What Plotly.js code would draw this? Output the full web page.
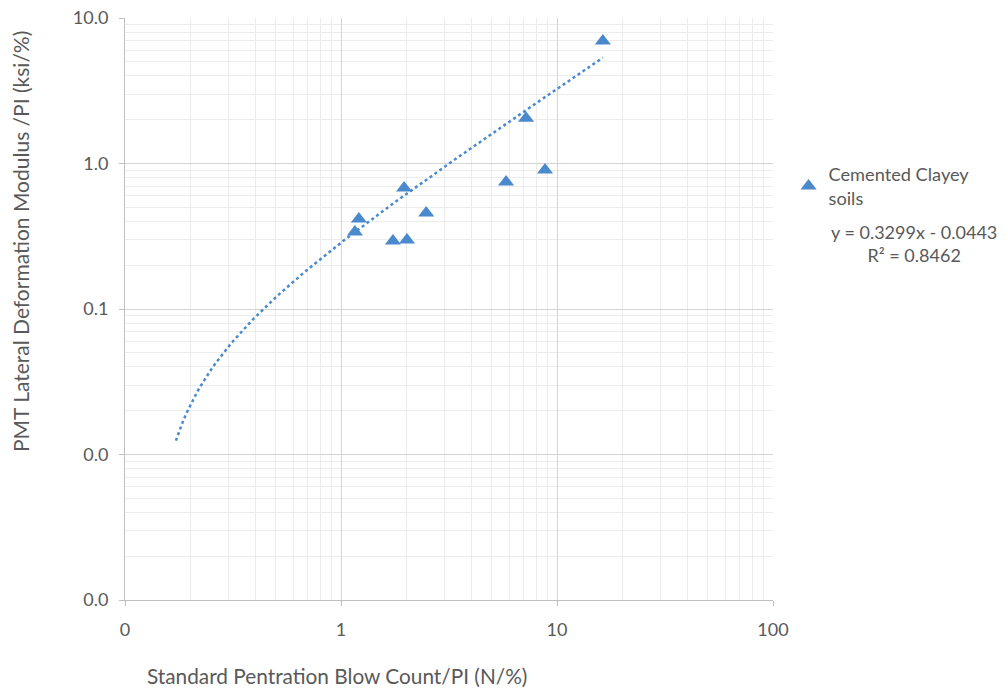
<!DOCTYPE html>
<html>
<head>
<meta charset="utf-8">
<script src="https://cdn.plot.ly/plotly-3.0.1.min.js"></script>
<style>
  html, body { margin: 0; padding: 0; background: #ffffff; }
  #chart { width: 1006px; height: 690px; }
</style>
</head>
<body>
<div id="chart"></div>
<script>
// Cemented clayey soils: SPT blow count / PI vs. PMT lateral deformation modulus / PI
const sptOverPI = [1.16, 1.21, 1.74, 1.96, 2.02, 2.48, 5.81, 7.19, 8.80, 16.3];
const pmtOverPI = [0.338, 0.416, 0.293, 0.679, 0.298, 0.457, 0.746, 2.05, 0.902, 6.95];

// Linear trendline as reported: y = slope * x + intercept
const trendSlope = 0.3299;
const trendIntercept = -0.0443;
const trendR2 = 0.8462;
const trendRange = [0.172, 16.3];

// Tick labels (two-significant-digit display of log axes)
const xTickVals = [0.1, 1, 10, 100];
const xTickText = ['0', '1', '10', '100'];
const yTickVals = [0.001, 0.01, 0.1, 1, 10];
const yTickText = ['0.0', '0.0', '0.1', '1.0', '10.0'];

// Sample the trendline evenly in log space so it reads smoothly on log axes
const trendX = [];
const trendY = [];
const nSamples = 120;
const lx0 = Math.log10(trendRange[0]), lx1 = Math.log10(trendRange[1]);
for (let i = 0; i <= nSamples; i++) {
  const x = Math.pow(10, lx0 + (lx1 - lx0) * i / nSamples);
  trendX.push(x);
  trendY.push(trendSlope * x + trendIntercept);
}

// Minor gridlines at 2..9 of every decade
function minorVals(lo, hi) {
  const v = [];
  for (let e = lo; e < hi; e++) {
    for (let d = 2; d <= 9; d++) v.push(d * Math.pow(10, e));
  }
  return v;
}

const blue = '#4a89cc';
const textGray = '#595959';
const font = 'Lato, "Open Sans", sans-serif';

const traces = [
  {
    x: sptOverPI, y: pmtOverPI,
    type: 'scatter', mode: 'markers',
    name: 'Cemented Clayey<br>soils',
    marker: { symbol: 'triangle-up', size: 14, color: blue },
    showlegend: true
  },
  {
    x: trendX, y: trendY,
    type: 'scatter', mode: 'lines',
    line: { color: blue, width: 2.5, dash: 'dot' },
    showlegend: false, hoverinfo: 'skip'
  }
];

const layout = {
  width: 1006, height: 690,
  margin: { l: 125, r: 233, t: 18, b: 90 },
  paper_bgcolor: '#ffffff', plot_bgcolor: '#ffffff',
  font: { family: font, color: textGray, size: 18 },
  xaxis: {
    type: 'log', range: [-1, 2],
    tickmode: 'array', tickvals: xTickVals, ticktext: xTickText,
    showgrid: true, gridcolor: '#d4d4d4', gridwidth: 1,
    showline: true, linecolor: '#bfbfbf', linewidth: 1,
    ticks: 'outside', ticklen: 5, tickcolor: '#bfbfbf',
    ticklabelstandoff: 8,
    tickfont: { size: 18, color: textGray },
    minor: { tickmode: 'array', tickvals: minorVals(-1, 2), showgrid: true, gridcolor: '#ececec', gridwidth: 1, ticks: '' },
    zeroline: false
  },
  yaxis: {
    type: 'log', range: [-3, 1],
    tickmode: 'array', tickvals: yTickVals, ticktext: yTickText,
    showgrid: true, gridcolor: '#d4d4d4', gridwidth: 1,
    showline: true, linecolor: '#bfbfbf', linewidth: 1,
    ticks: 'outside', ticklen: 5, tickcolor: '#bfbfbf',
    ticklabelstandoff: 7,
    tickfont: { size: 18, color: textGray },
    minor: { tickmode: 'array', tickvals: minorVals(-3, 1), showgrid: true, gridcolor: '#ececec', gridwidth: 1, ticks: '' },
    zeroline: false
  },
  legend: {
    x: 1.024, y: 0.763, xanchor: 'left', yanchor: 'top',
    font: { size: 18.2, color: textGray },
    bgcolor: 'rgba(0,0,0,0)', itemwidth: 30, tracegroupgap: 0
  },
  annotations: [
    // axis titles
    {
      xref: 'paper', yref: 'paper', x: 0.0309, y: -0.1289, xanchor: 'left', yanchor: 'middle',
      text: 'Standard Pentration Blow Count/PI (N/%)',
      showarrow: false, font: { size: 20.8, color: textGray, family: font }
    },
    {
      xref: 'paper', yref: 'paper', x: -0.162, y: 0.615, xanchor: 'center', yanchor: 'middle',
      text: 'PMT Lateral Deformation Modulus /PI (ksi/%)', textangle: -90,
      showarrow: false, font: { size: 21, color: textGray, family: font }
    },
    // trendline equation and fit
    {
      xref: 'paper', yref: 'paper', x: 1.2176, y: 0.612, xanchor: 'center', yanchor: 'middle',
      align: 'center',
      text: 'y = ' + trendSlope.toFixed(4) + 'x - ' + Math.abs(trendIntercept).toFixed(4) +
            '<br>R² = ' + trendR2.toFixed(4),
      showarrow: false, font: { size: 18, color: textGray, family: font }
    }
  ]
};

Plotly.newPlot('chart', traces, layout, { displayModeBar: false, staticPlot: true });
</script>
</body>
</html>
